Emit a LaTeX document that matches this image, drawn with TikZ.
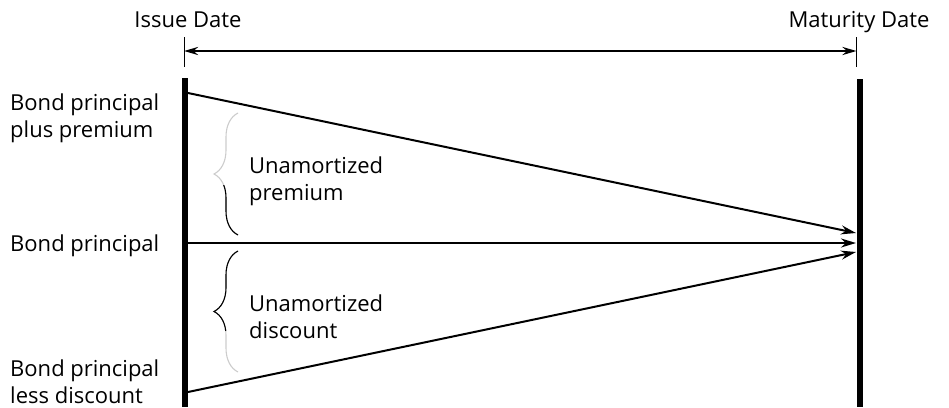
\documentclass[tikz,border=0pt]{standalone}
\usepackage{fontspec}
\setmainfont{Open Sans}
\usetikzlibrary{arrows.meta,positioning,decorations.pathreplacing}

\begin{document}
\begin{tikzpicture}[x=1pt, y=-1pt, font=\fontsize{22}{27}\selectfont]
    % Define styles
    \tikzstyle{bar} = [line width=5.5pt]
    \tikzstyle{tick} = [line width=0.8pt]
    \tikzstyle{flow} = [line width=2pt, -{Stealth[length=15pt, width=9pt]}]
    \tikzstyle{span} = [line width=2.4pt, {Stealth[length=14pt, width=8pt]}-{Stealth[length=14pt, width=8pt]}]
    \tikzstyle{label} = [align=left, anchor=base west, inner sep=0pt]
    \tikzstyle{curly} = [decorate, decoration={brace, amplitude=24pt}, line width=1.1pt]

    \useasboundingbox (0,0) rectangle (949,407);

    % Dates
    \node [inner sep=0pt, anchor=base] (issue) at (188,27) {Issue Date};
    \node [inner sep=0pt, anchor=base] (maturity) at (859,27) {Maturity Date};
    \coordinate (issue tick top) at (184,37);
    \coordinate (issue tick bottom) at (184,67);
    \coordinate (maturity tick top) at (856.5,37);
    \coordinate (maturity tick bottom) at (856.5,67);
    \draw [tick] (issue tick top) -- (issue tick bottom);
    \draw [tick] (maturity tick top) -- (maturity tick bottom);
    \coordinate (span left) at (184,51);
    \coordinate (span right) at (856.5,51);
    \draw [span] (span left) -- (span right);

    % Bars
    \coordinate (issue top) at (185,78);
    \coordinate (issue bottom) at (185,407);
    \coordinate (maturity top) at (860,79);
    \coordinate (maturity bottom) at (860,407);
    \draw [bar] (issue top) -- (issue bottom);
    \draw [bar] (maturity top) -- (maturity bottom);

    % Values
    \coordinate (premium) at (188,93);
    \coordinate (principal) at (188,243);
    \coordinate (discount) at (188,392);
    \coordinate (end premium) at (856,233);
    \coordinate (end principal) at (856,243);
    \coordinate (end discount) at (856,252);
    \draw [flow] (premium) -- (end premium);
    \draw [flow] (principal) -- (end principal);
    \draw [flow] (discount) -- (end discount);

    % Labels
    \node [label] (plus) at (10,137) {Bond principal\\plus premium};
    \node [label] (par) at (10,251) {Bond principal};
    \node [label] (less) at (10,403) {Bond principal\\less discount\vphantom{l}};
    \node [label] (unprem) at (249,200) {Unamortized\\premium};
    \node [label] (undisc) at (249,338) {Unamortized\\discount};

    % Braces
    \draw [curly, gray!40] (238,235) -- (238,113);
    \begin{scope}
        \clip (200,185) rectangle (245,240);
        \draw [curly] (238,235) -- (238,113);
    \end{scope}
    \draw [curly, gray!40] (238,372) -- (238,251);
    \begin{scope}
        \clip (200,245) rectangle (245,330);
        \draw [curly] (238,372) -- (238,251);
    \end{scope}
\end{tikzpicture}
\end{document}
